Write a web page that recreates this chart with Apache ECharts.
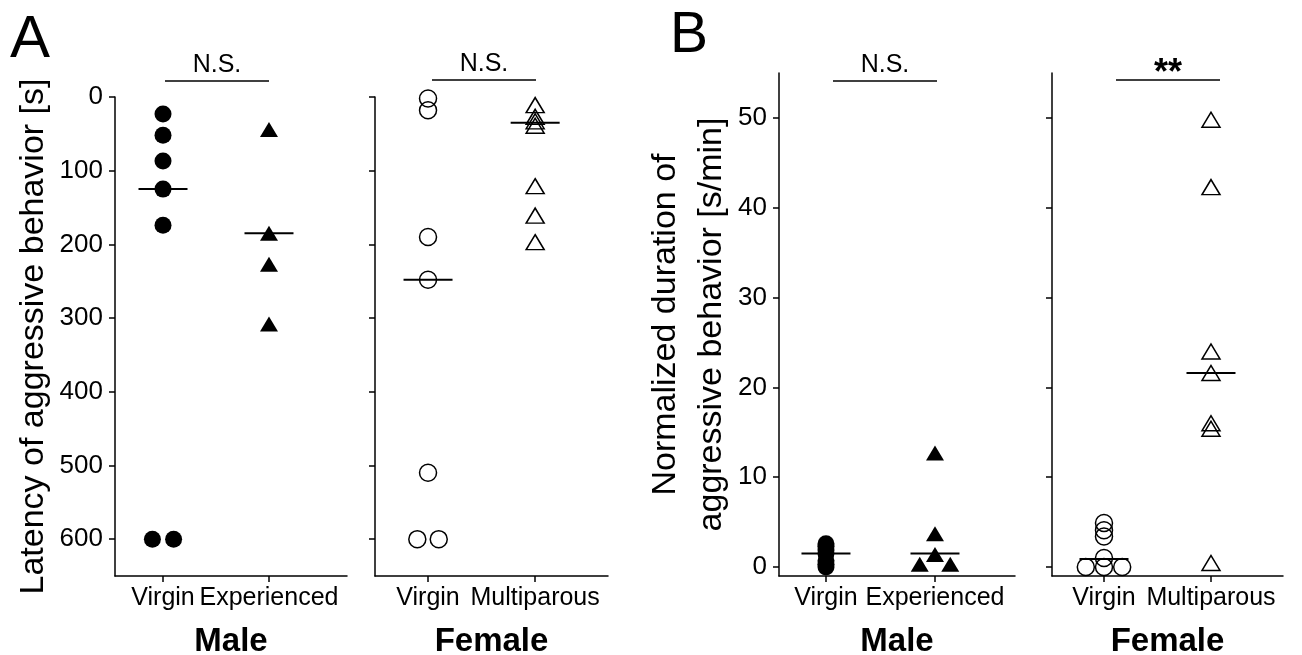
<!DOCTYPE html>
<html>
<head>
<meta charset="utf-8">
<script src="https://cdn.jsdelivr.net/npm/echarts@6.0.0/dist/echarts.min.js"></script>
<style>
html, body { margin: 0; padding: 0; background: #fff; }
#main { width: 1302px; height: 655px; }
</style>
</head>
<body>
<div id="main"></div>
<script>
// groups and ticks
var maleGroups = ["Virgin", "Experienced"];
var femaleGroups = ["Virgin", "Multiparous"];
var latencyTicks = [0, 100, 200, 300, 400, 500, 600];
var durationTicks = [0, 10, 20, 30, 40, 50];

// A: latency of aggressive behavior [s]
var latMaleVirgin = [23, 52, 87, 125, 174, 600, 600];
var latMaleVirginJit = [0, 0, 0, 0, 0, -0.1, 0.1];
var latMaleExp = [44, 185, 227, 308];
var latFemVirgin = [2, 18, 190, 248, 510, 600, 600];
var latFemVirginJit = [0, 0, 0, 0, 0, -0.1, 0.1];
var latFemMulti = [11, 27, 33, 39, 121, 161, 197];
var latMedians = [125, 185, 248, 35];   // male virgin, male exp, female virgin, female multi

// B: normalized duration [s/min]
var durMaleVirgin = [0, 0.3, 0.7, 1.5, 1.9, 2.3, 2.6];
var durMaleExp = [12.7, 3.7, 1.4, 0.3, 0.3];
var durMaleExpJit = [0, 0, 0, -0.14, 0.14];
var durFemVirgin = [0, 0, 0, 1.0, 3.4, 4.1, 4.9];
var durFemVirginJit = [-0.17, 0, 0.17, 0, 0, 0, 0];
var durFemMulti = [49.8, 42.3, 24, 21.6, 16, 15.4, 0.45];
var durMedians = [1.5, 1.5, 0.9, 21.6];

var font = "'Liberation Sans', Arial, sans-serif";

function pts(values, g, jit) {
    return values.map(function (v, i) { return [g + (jit ? jit[i] : 0), v]; });
}

function dots(panel, values, g, jit, shape, filled) {
    return {
        type: "scatter",
        xAxisIndex: panel,
        yAxisIndex: panel,
        symbol: shape,
        symbolSize: shape == "triangle" ? [18, 15] : 17,
        data: pts(values, g, jit),
        itemStyle: filled
            ? { color: "#000", opacity: 1 }
            : { color: "rgba(0,0,0,0)", borderColor: "#000", borderWidth: 1.5, opacity: 1 },
        silent: true
    };
}

function median(panel, g, v) {
    return {
        type: "scatter",
        xAxisIndex: panel,
        yAxisIndex: panel,
        symbol: "rect",
        symbolSize: [49, 2],
        data: [[g, v]],
        itemStyle: { color: "#000", opacity: 1 },
        z: 5,
        silent: true
    };
}

function xAx(panel, min, max, groups, name) {
    return {
        type: "value",
        gridIndex: panel,
        position: "bottom",
        min: min,
        max: max,
        axisLine: { onZero: false, lineStyle: { color: "#000", width: 1.5 } },
        axisTick: { customValues: [1, 2], length: 6, lineStyle: { color: "#000", width: 1.5 } },
        axisLabel: {
            customValues: [1, 2],
            formatter: function (v) { return groups[Math.round(v) - 1]; },
            color: "#000", fontSize: 25, fontFamily: font, margin: 10
        },
        splitLine: { show: false },
        name: name,
        nameLocation: "middle",
        nameGap: 49,
        nameTextStyle: { color: "#000", fontSize: 33, fontWeight: "bold", fontFamily: font }
    };
}

function yAx(panel, min, max, ticks, inverse, showLabels, name, nameGap, lineHeight) {
    return {
        type: "value",
        gridIndex: panel,
        position: "left",
        min: min,
        max: max,
        inverse: inverse,
        axisLine: { show: true, onZero: false, lineStyle: { color: "#000", width: 1.5 } },
        axisTick: { show: true, customValues: ticks, length: 6, lineStyle: { color: "#000", width: 1.5 } },
        axisLabel: {
            show: showLabels,
            customValues: ticks,
            color: "#000", fontSize: 26, fontFamily: font, margin: 12
        },
        splitLine: { show: false },
        name: name,
        nameLocation: "middle",
        nameGap: nameGap,
        nameTextStyle: { color: "#000", fontSize: 34, fontFamily: font, lineHeight: lineHeight }
    };
}

function sig(x1, x2, y, label, bold) {
    return [
        { type: "line", shape: { x1: x1, y1: y, x2: x2, y2: y }, style: { stroke: "#000", lineWidth: 1.5 } },
        { type: "text", x: (x1 + x2) / 2, y: bold ? y - 24 : y - 28,
          style: { text: label, fontSize: bold ? 36 : 25, fontWeight: bold ? "bold" : "normal",
                   fontFamily: font, fill: "#000", align: "center", verticalAlign: "top" } }
    ];
}

var chart = echarts.init(document.getElementById("main"), null, { renderer: "canvas" });
chart.setOption({
    backgroundColor: "#fff",
    animation: false,
    grid: [
        { left: 115, top: 97, width: 232, height: 479, containLabel: false, outerBoundsMode: "none" },
        { left: 375, top: 97, width: 233, height: 479, containLabel: false, outerBoundsMode: "none" },
        { left: 779, top: 73, width: 236, height: 503, containLabel: false, outerBoundsMode: "none" },
        { left: 1052, top: 73, width: 231, height: 503, containLabel: false, outerBoundsMode: "none" }
    ],
    xAxis: [
        xAx(0, 0.547, 2.736, maleGroups, "Male"),
        xAx(1, 0.505, 2.68, femaleGroups, "Female"),
        xAx(2, 0.569, 2.734, maleGroups, "Male"),
        xAx(3, 0.514, 2.673, femaleGroups, "Female")
    ],
    yAxis: [
        yAx(0, 0, 650, latencyTicks, true, true, "Latency of aggressive behavior [s]", 64),
        yAx(1, 0, 650, latencyTicks, true, false, "", 0),
        yAx(2, -1, 55, durationTicks, false, true, "Normalized duration of\naggressive behavior [s/min]", 40, 46),
        yAx(3, -1, 55, durationTicks, false, false, "", 0)
    ],
    series: [
        dots(0, latMaleVirgin, 1, latMaleVirginJit, "circle", true),
        dots(0, latMaleExp, 2, null, "triangle", true),
        dots(1, latFemVirgin, 1, latFemVirginJit, "circle", false),
        dots(1, latFemMulti, 2, null, "triangle", false),
        dots(2, durMaleVirgin, 1, null, "circle", true),
        dots(2, durMaleExp, 2, durMaleExpJit, "triangle", true),
        dots(3, durFemVirgin, 1, durFemVirginJit, "circle", false),
        dots(3, durFemMulti, 2, null, "triangle", false),
        median(0, 1, latMedians[0]),
        median(0, 2, latMedians[1]),
        median(1, 1, latMedians[2]),
        median(1, 2, latMedians[3]),
        median(2, 1, durMedians[0]),
        median(2, 2, durMedians[1]),
        median(3, 1, durMedians[2]),
        median(3, 2, durMedians[3])
    ],
    graphic: [
        { type: "text", x: 10, y: 10, style: { text: "A", fontSize: 60, fontFamily: font, fill: "#000" } },
        { type: "text", x: 670, y: 8, style: { text: "B", fontSize: 57, fontFamily: font, fill: "#000" } }
    ].concat(
        sig(165, 269, 81, "N.S.", false),
        sig(432, 536, 80, "N.S.", false),
        sig(833, 937, 81, "N.S.", false),
        sig(1116, 1220, 80, "**", true)
    )
});
</script>
</body>
</html>
